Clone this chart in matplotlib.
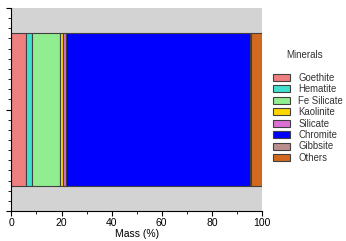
import numpy as np
import matplotlib.pyplot as plt
from matplotlib.ticker import MultipleLocator

plt.rcParams['font.family'] = ['Liberation Sans', 'DejaVu Sans']

# mineral composition (mass %)
minerals = ['Goethite', 'Hematite', 'Fe Silicate', 'Kaolinite', 'Silicate',
            'Chromite', 'Gibbsite', 'Others']
mass = [5.8, 2.6, 10.8, 1.4, 1.2, 73.5, 0.3, 4.4]
colors = ['#F08080', '#40E0D0', '#90EE90', '#FFD700', '#DA70D6',
          '#0000FF', '#BC8F8F', '#D2691E']

fig = plt.figure(figsize=(3.46, 2.41), dpi=100)
ax = fig.add_axes([0.033, 0.124, 0.724, 0.843])
ax.set_facecolor('#D3D3D3')

left = 0
for name, m, c in zip(minerals, mass, colors):
    ax.barh(0, m, left=left, height=1.5, color=c, edgecolor='#404040',
            linewidth=0.8, label=name)
    left += m

ax.set_xlim(0, 100)
ax.set_ylim(-1, 1)
ax.xaxis.set_major_locator(MultipleLocator(20))
ax.xaxis.set_minor_locator(MultipleLocator(10))
ax.yaxis.set_major_locator(MultipleLocator(1))
ax.yaxis.set_minor_locator(MultipleLocator(0.1))
ax.set_yticklabels([])
ax.tick_params(labelsize=7.5, width=0.8, length=3.5, pad=1.5)
ax.tick_params(which='minor', length=2, width=0.6)
ax.set_xlabel('Mass (%)', fontsize=7.5, labelpad=1)
for s in ['top', 'right']:
    ax.spines[s].set_visible(False)

fig.text(0.881, 0.772, 'Minerals', fontsize=7, ha='center', va='center',
         color='#333333')
leg = ax.legend(loc='upper left', bbox_to_anchor=(0.789, 0.698),
                bbox_transform=fig.transFigure, borderaxespad=0, borderpad=0,
                frameon=False, fontsize=6.9,
                handlelength=1.8, handleheight=0.75, labelspacing=0.15,
                handletextpad=0.85)
for t in leg.get_texts():
    t.set_color('#333333')

plt.savefig('out.png', dpi=100)
